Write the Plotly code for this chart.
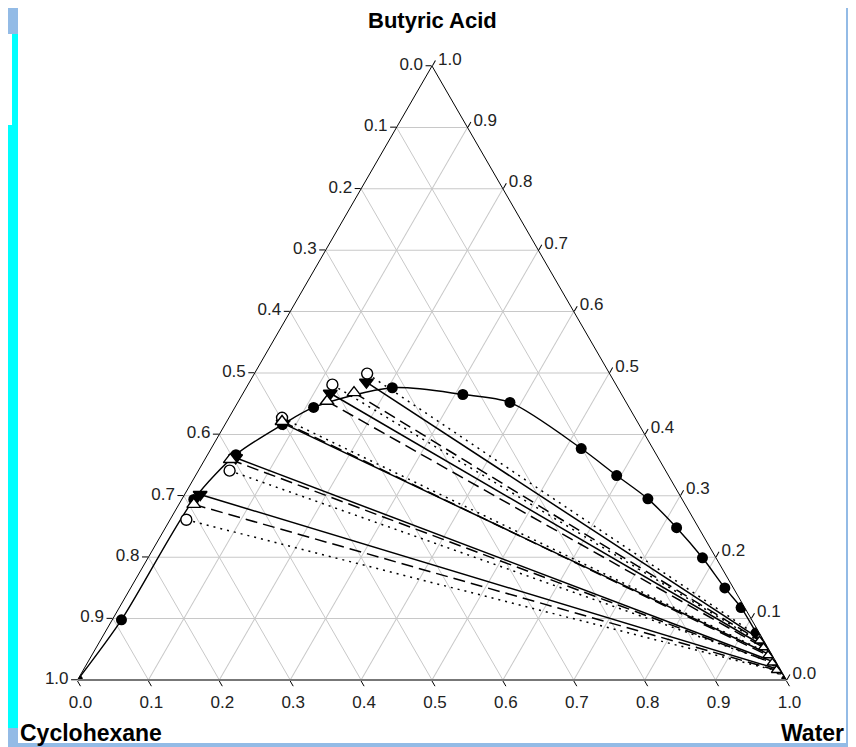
import plotly.graph_objects as go

# ---------------- data (mass fractions) ----------------
# Binodal curve (experimental): butyric acid and water fractions
bin_acid = [0.000, 0.098, 0.294, 0.367, 0.416, 0.444, 0.476, 0.465, 0.452,
            0.377, 0.333, 0.295, 0.248, 0.199, 0.150, 0.118, 0.077, 0.000]
bin_water = [0.000, 0.013, 0.017, 0.040, 0.081, 0.111, 0.206, 0.311, 0.384,
             0.522, 0.594, 0.657, 0.721, 0.782, 0.838, 0.877, 0.919, 1.000]

# Experimental tie lines (organic phase / aqueous phase)
exp_org_acid = [0.302, 0.362, 0.418, 0.467, 0.485]
exp_org_water = [0.022, 0.042, 0.081, 0.123, 0.165]
exp_aq_acid = [0.018, 0.030, 0.042, 0.055, 0.066]
exp_aq_water = [0.978, 0.966, 0.954, 0.941, 0.930]

# NRTL tie lines
nrtl_org_acid = [0.286, 0.359, 0.421, 0.454, 0.468]
nrtl_org_water = [0.021, 0.036, 0.078, 0.125, 0.156]
nrtl_aq_acid = [0.016, 0.028, 0.040, 0.053, 0.064]
nrtl_aq_water = [0.978, 0.966, 0.954, 0.941, 0.930]

# UNIQUAC tie lines
uniq_org_acid = [0.261, 0.341, 0.427, 0.481, 0.499]
uniq_org_water = [0.023, 0.044, 0.075, 0.119, 0.159]
uniq_aq_acid = [0.014, 0.027, 0.043, 0.058, 0.070]
uniq_aq_water = [0.983, 0.970, 0.954, 0.939, 0.927]

tick_vals = [i / 10 for i in range(11)]
tick_text_rev = [f"{1 - v:.1f}" for v in tick_vals]

FONT = "Liberation Sans, Arial, sans-serif"


def tie_arrays(org_a, org_w, aq_a, aq_w):
    a, b, c = [], [], []
    for i in range(len(org_a)):
        a += [org_a[i], aq_a[i], None]
        c += [org_w[i], aq_w[i], None]
        b += [1 - org_a[i] - org_w[i], 1 - aq_a[i] - aq_w[i], None]
    return a, b, c


def ends(acid, water):
    return acid, [1 - x - y for x, y in zip(acid, water)], water


fig = go.Figure()

# tie lines
for (oa, ow, qa, qw, dash) in [
    (uniq_org_acid, uniq_org_water, uniq_aq_acid, uniq_aq_water, "2px,5px"),
    (nrtl_org_acid, nrtl_org_water, nrtl_aq_acid, nrtl_aq_water, "12px,6px"),
    (exp_org_acid, exp_org_water, exp_aq_acid, exp_aq_water, "solid"),
]:
    a, b, c = tie_arrays(oa, ow, qa, qw)
    fig.add_trace(go.Scatterternary(
        a=a, b=b, c=c, mode="lines", connectgaps=False,
        line=dict(color="black", width=1.5, dash=dash),
        hoverinfo="skip", showlegend=False))

# binodal curve
ba, bb, bc = ends(bin_acid, bin_water)
fig.add_trace(go.Scatterternary(
    a=ba, b=bb, c=bc, mode="lines+markers",
    line=dict(color="black", width=1.4, shape="spline", smoothing=0.8),
    marker=dict(symbol="circle", size=11, color="black"),
    showlegend=False, name="Binodal"))

# tie-line end markers
for (acid, water, sym, fill, size) in [
    (uniq_org_acid, uniq_org_water, "circle", "white", 11),
    (uniq_aq_acid, uniq_aq_water, "circle", "white", 5),
    (exp_org_acid, exp_org_water, "triangle-down", "black", 12),
    (exp_aq_acid, exp_aq_water, "triangle-down", "black", 5),
    (nrtl_org_acid, nrtl_org_water, "triangle-up", "white", 12),
    (nrtl_aq_acid, nrtl_aq_water, "triangle-up", "white", 9),
]:
    a, b, c = ends(acid, water)
    fig.add_trace(go.Scatterternary(
        a=a, b=b, c=c, mode="markers",
        marker=dict(symbol=sym, size=size, color=fill,
                    line=dict(color="black", width=1.4)),
        showlegend=False))

axis_common = dict(
    tickmode="array", tickvals=tick_vals, ticks="outside", ticklen=6,
    tickcolor="black", showline=True, linecolor="black", linewidth=1,
    showgrid=True, gridcolor="#c8c8c8", gridwidth=1,
    tickfont=dict(family=FONT, size=17, color="#222"),
    title=dict(text=""), min=0,
)

# the page body adds an 8px offset, so the figure is 848 x 739
fig.update_layout(
    width=848, height=739,
    margin=dict(l=69, r=69, t=58, b=67),
    paper_bgcolor="#93bbe6",
    showlegend=False,
    ternary=dict(
        sum=1,
        bgcolor="white",
        aaxis=dict(axis_common, ticktext=tick_text_rev),
        baxis=dict(axis_common, ticktext=tick_text_rev, linecolor="#777", linewidth=2),
        caxis=dict(axis_common, ticktext=tick_text_rev),
    ),
)


# convert window pixels to paper fractions
def px_x(px):
    return (px - 77) / 710


def px_y(py):
    return (680 - py) / 614


shapes = [
    (18, 7, 846, 743, "white"),
    (8, 34, 12, 125, "white"),
    (12, 34, 18, 125, "#00ffff"),
    (8, 125, 18, 728, "#00ffff"),
]
for x0, y0, x1, y1, col in shapes:
    fig.add_shape(type="rect", xref="paper", yref="paper",
                  x0=px_x(x0), x1=px_x(x1), y0=px_y(y1), y1=px_y(y0),
                  fillcolor=col, line=dict(width=0), layer="below")

title_font = dict(family=FONT, size=22, color="black")
fig.add_annotation(text="<b>Butyric Acid</b>", xref="paper", yref="paper",
                   x=px_x(432), y=px_y(21), xanchor="center", yanchor="middle",
                   showarrow=False, font=title_font)
fig.add_annotation(text="<b>Cyclohexane</b>", xref="paper", yref="paper",
                   x=px_x(18), y=px_y(733), xanchor="left", yanchor="middle",
                   showarrow=False, font=dict(family=FONT, size=23, color="black"))
fig.add_annotation(text="<b>Water</b>", xref="paper", yref="paper",
                   x=px_x(846), y=px_y(733), xanchor="right", yanchor="middle",
                   showarrow=False, font=dict(family=FONT, size=23, color="black"))

fig.write_html("out.html")
